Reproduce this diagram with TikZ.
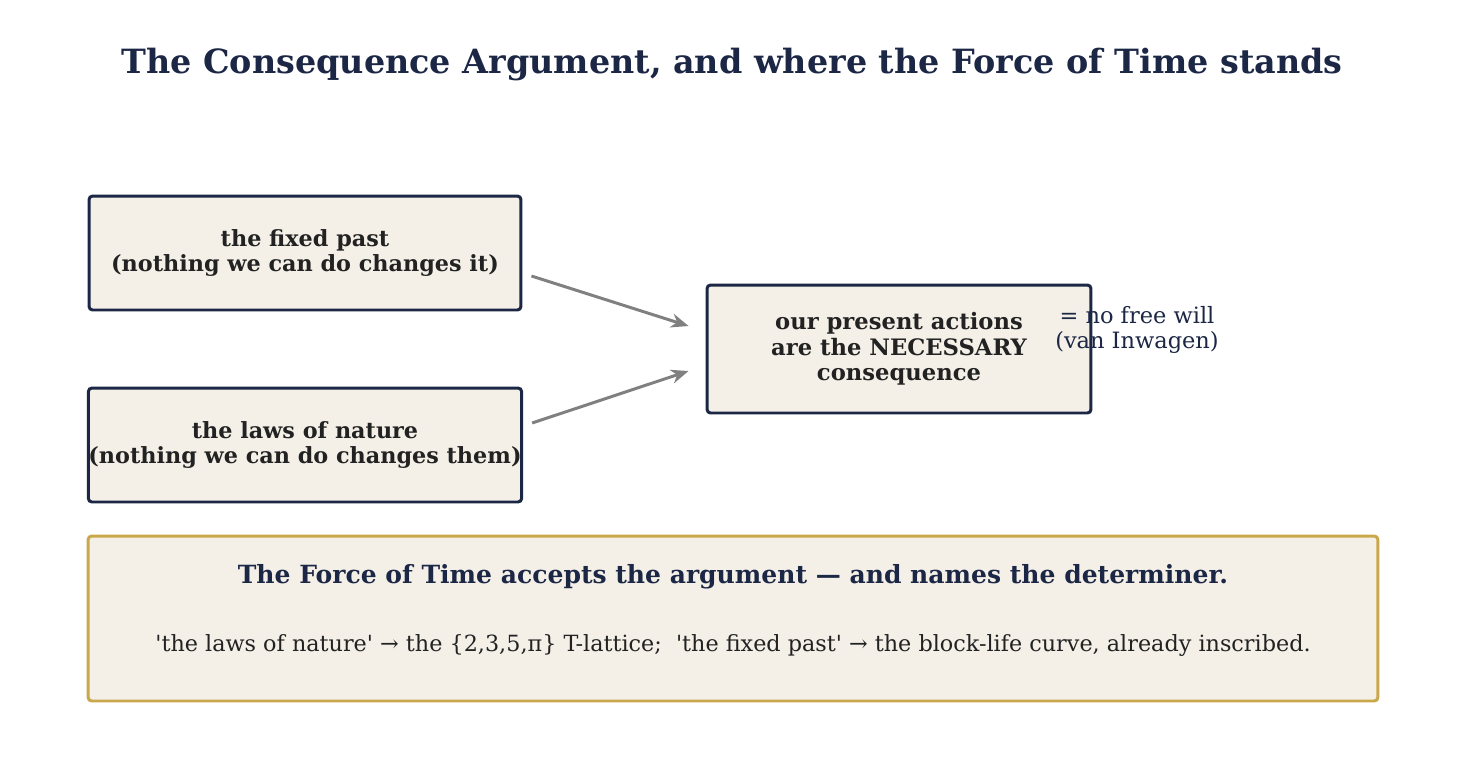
\documentclass[tikz,border=0pt]{standalone}
\usepackage{fontspec}
\newfontfamily\dvserif{DejaVu Serif}
\usepackage{tikz}
\usetikzlibrary{positioning,arrows.meta}
\definecolor{navy}{HTML}{1B2745}
\definecolor{paper}{HTML}{F4F0E8}
\definecolor{gold}{HTML}{C9A84C}
\definecolor{ink}{HTML}{222222}
\definecolor{arrowgray}{HTML}{808080}

\begin{document}
\begin{tikzpicture}[
    x=0.02cm, y=-0.02cm,
    every node/.style={font=\dvserif},
    premise/.style={draw=navy, fill=paper, line width=1.7pt, rounded corners=2pt, inner xsep=0pt, minimum width=8.64cm, minimum height=2.28cm, align=center, text=ink, font=\dvserif\fontsize{12.7}{14.3}\selectfont\bfseries},
    result/.style={premise, minimum width=7.68cm, minimum height=2.56cm, font=\dvserif\fontsize{12.9}{14.5}\selectfont\bfseries},
    verdict/.style={draw=gold, fill=paper, line width=1.7pt, rounded corners=2pt, minimum width=25.8cm, minimum height=3.3cm},
    flow/.style={-{Stealth[length=10pt,width=8pt]}, line width=1.7pt, arrowgray},
    gloss/.style={align=center, text=navy, font=\dvserif\fontsize{12.8}{14.5}\selectfont}
]
\useasboundingbox (0,0) rectangle (1465,779);

\node[text=navy, font=\dvserif\fontsize{19}{23}\selectfont\bfseries] (title) at (732,65) {The Consequence Argument, and where the Force of Time stands};

\node[premise] (past) at (305,253) {the fixed past\\(nothing we can do changes it)};
\node[premise] (laws) at (305,445) {the laws of nature\\(nothing we can do changes them)};
\node[result] (actions) at (899,349) {our present actions\\are the NECESSARY\\consequence};
\node[gloss] (nofree) at (1137,330) {= no free will\\(van Inwagen)};

\draw[flow] ([xshift=0.18cm,yshift=-0.46cm]past.east) -- ([xshift=-0.34cm,yshift=0.46cm]actions.west);
\draw[flow] ([xshift=0.18cm,yshift=0.44cm]laws.east) -- ([xshift=-0.34cm,yshift=-0.44cm]actions.west);

\node[verdict] (answer) at (733,618.5) {};
\node[text=navy, font=\dvserif\fontsize{14.25}{17}\selectfont\bfseries] (claim) at (733,577) {The Force of Time accepts the argument — and names the determiner.};
\node[text=ink, font=\dvserif\fontsize{12.7}{15}\selectfont] (mapping) at (733,645) {'the laws of nature' → the \{2,3,5,π\} T-lattice;\ \ 'the fixed past' → the block-life curve, already inscribed.};

\end{tikzpicture}
\end{document}
